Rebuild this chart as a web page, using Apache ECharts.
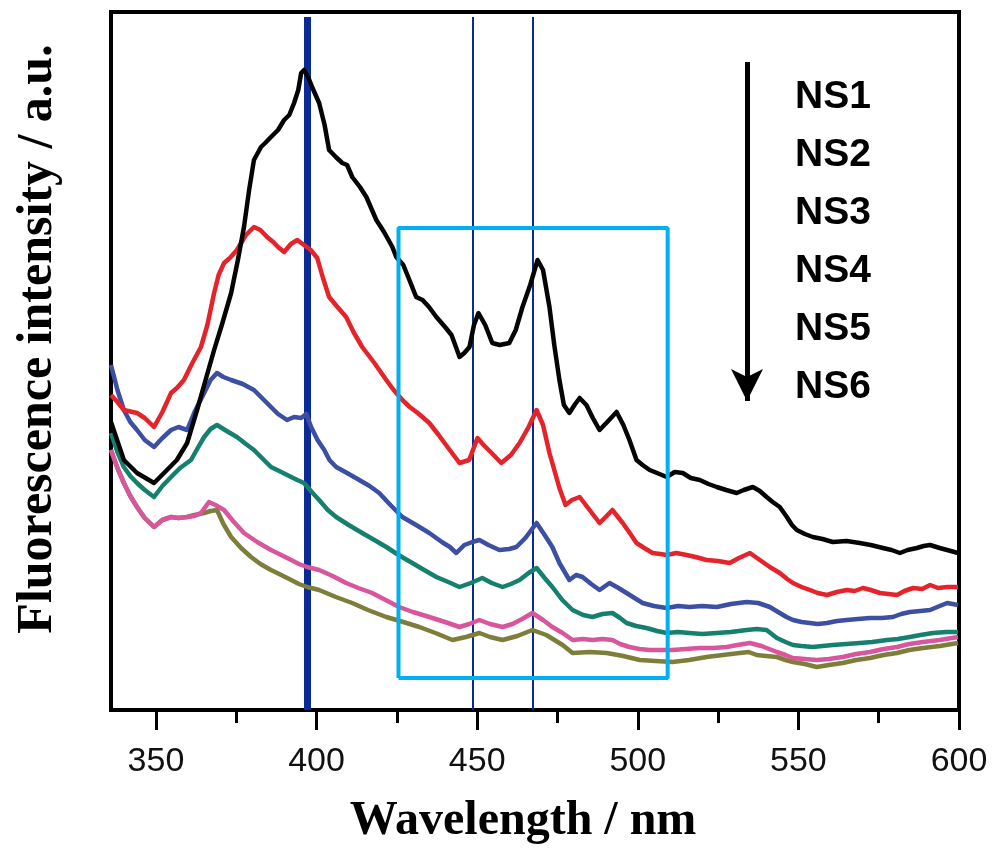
<!DOCTYPE html>
<html>
<head>
<meta charset="utf-8">
<script src="https://cdn.jsdelivr.net/npm/echarts@6/dist/echarts.min.js"></script>
<style>html,body{margin:0;padding:0;background:#fff}#c{width:996px;height:858px}</style>
</head>
<body>
<div id="c"></div>
<script>
// ---- data (wavelength nm, intensity a.u.) ----
const seriesNames = ['NS1','NS2','NS3','NS4','NS5','NS6'];
const ns1 = [[336,288],[340,250],[344.1,237],[349.4,227],[352.5,237],[356.5,250],[359.7,267],[362.8,300],[365,325],[368.1,360],[370.5,385],[373.4,417],[375.5,450],[377.4,483],[379,520],[380.5,550],[382.7,563],[384,567],[385.8,573],[388,580],[389.9,590],[391.5,595],[393,607],[394.3,620],[395.2,637],[396.1,640],[397.5,632],[398.6,623],[400.8,607],[402.5,585],[403.9,560],[406,553],[408,547],[409.5,545],[411.1,533],[413.5,523],[415.5,513],[418.6,490],[421,478],[423.6,463],[424.8,453],[427,445],[428.9,430],[431,413],[433,410],[435,403],[437.3,393],[440,383],[442,375],[443.5,362],[444.5,353],[446,357],[447.6,363],[449,385],[450.4,397],[452.5,385],[454.7,367],[457,365],[460,367],[462,380],[464.1,403],[466.5,425],[468.8,450],[470.5,440],[472.5,403],[474,365],[475.6,330],[477,305],[478.7,297],[480.3,305],[481.9,312],[484,305],[486,292],[488.1,280],[490.5,288],[493.4,298],[495.5,285],[497.4,270],[499.6,250],[501.5,245],[503.7,240],[506,237],[509,233],[511.5,238],[514,237],[516.5,232],[519.3,230],[522,226],[524.6,223],[527.5,220],[530.8,217],[533,220],[535.8,223],[538,219],[540.1,213],[542,208],[544.2,203],[546.4,193],[548,185],[549.5,180],[552,176],[554.5,173],[557.5,171],[560.7,168],[565,169],[569.1,167],[572.5,165],[576.3,162],[579,160],[581.6,157],[584,160],[586.9,162],[589,164],[591,165],[594,162],[596.3,160],[599.7,157]];
const ns2 = [[336,315],[338,308],[340,300],[344.1,297],[346.5,292],[349.4,283],[352,298],[354.7,317],[356.5,322],[358.7,330],[361,345],[364,363],[366,385],[368.1,417],[369.5,435],[371.2,447],[373,452],[375.2,460],[378,475],[380.5,483],[382.5,480],[384.6,473],[386.5,468],[388,463],[389.9,458],[392,466],[394,470],[396.1,465],[398.2,460],[400.2,452],[402,432],[403.9,413],[406.5,403],[409.2,393],[411.5,378],[414.2,363],[418,347],[421.7,330],[424,320],[426.7,310],[429,303],[431.5,297],[435.1,287],[438,275],[441,262],[444.5,247],[447.5,250],[450.1,272],[452,265],[454.5,257],[457.5,247],[460.5,255],[463.2,267],[466,283],[468.5,300],[470.5,285],[472.5,257],[475.6,222],[477.5,205],[479.5,210],[481.9,213],[485,200],[488.1,187],[490,193],[492.1,200],[495.3,187],[497.5,177],[499.6,167],[502,162],[504.6,157],[507,156],[509,155],[512,157],[515.2,155],[518,153],[521.4,150],[525,149],[528.6,147],[531.5,152],[534.9,157],[538,150],[541.1,143],[544.2,137],[546.5,131],[548.3,127],[551,123],[553.6,120],[556,117],[558.9,115],[562,118],[565.1,120],[567.5,119],[570.1,122],[572.5,120],[575.4,117],[578,116],[580.7,115],[583,119],[585.7,122],[588.5,121],[591,125],[593.5,122],[596.3,123],[599.7,123]];
const ns3 = [[336,345],[338,320],[340,300],[342,288],[344.1,280],[346.5,270],[349.4,263],[352,272],[354.7,280],[357,283],[359.7,280],[362,298],[365,317],[367,330],[369,337],[371,333],[373.4,330],[377,326],[380.5,320],[383,312],[385.8,303],[388,296],[390.8,290],[393,293],[395.2,292],[396.8,296],[398.3,283],[400.3,270],[402.4,260],[404,250],[406.1,243],[409.5,237],[413.3,230],[416.5,224],[419.5,217],[423,205],[426.7,193],[431,185],[435.1,177],[439,168],[441.5,163],[443.5,157],[446,165],[448.5,168],[450.7,170],[453.5,165],[456.9,160],[460,161],[462.2,163],[465,172],[468.5,187],[471,175],[473.4,163],[475.6,147],[478.7,130],[480.8,135],[482.8,133],[485.5,126],[488.1,120],[491.2,127],[494,122],[496.5,117],[499,112],[501.5,107],[505,104],[509,102],[512.5,104],[516.1,103],[520,104],[524.6,103],[529,106],[533.9,108],[537.5,107],[541.1,103],[544.2,97],[546.3,93],[548.3,90],[551,88],[553.6,87],[556,86],[558.9,87],[562,89],[565.1,90],[568.5,91],[572.3,92],[576,92],[579.4,93],[582,96],[584.7,98],[588,99],[591,100],[594,104],[596.3,107],[599.7,105]];
const ns4 = [[336,277],[338,258],[340,243],[342,234],[344.1,227],[346.5,220],[349.4,213],[352,224],[354.7,233],[357.5,242],[360.9,250],[363,262],[365,273],[367,281],[369,285],[372,279],[375.2,273],[378,266],[380.5,260],[383,252],[385.8,243],[389,238],[392.1,233],[394,230],[396.1,227],[398.5,218],[400.8,210],[403.5,200],[406.1,193],[410,185],[414.2,177],[418,170],[421.7,163],[425.5,155],[429.8,147],[433.5,140],[437.3,133],[441,128],[444.5,123],[448,127],[451.6,132],[454.5,127],[457.9,123],[460.5,126],[463.2,130],[466,137],[468.5,142],[471,132],[473.4,123],[476.5,110],[479.7,100],[483,95],[485.9,93],[489,96],[492.1,97],[494.5,92],[496.5,87],[499.5,84],[502.7,82],[506,79],[509,77],[512.5,78],[516.1,77],[520,76],[524.6,77],[529,78],[533.9,80],[537,81],[540.1,80],[543.3,72],[546,68],[548.3,65],[551,64],[554.5,63],[557.5,64],[560.7,65],[565,66],[569.1,67],[573,68],[577.6,70],[581,71],[584.7,73],[588,75],[591.9,77],[596,78],[599.7,78]];
const ns5 = [[336,260],[338,242],[340,227],[342,214],[344.1,203],[346.5,192],[349.4,183],[352,190],[354.7,193],[357,192],[359.7,193],[362,194],[364,197],[366.5,208],[368.5,205],[371.2,200],[374,189],[377.4,177],[381.5,168],[385.8,160],[389,155],[392.1,150],[394.5,146],[397.1,143],[400.8,140],[405,134],[409.2,127],[413,122],[417.3,117],[421.5,110],[425.7,103],[430,98],[435.1,93],[440,88],[444.5,83],[447.5,86],[450.7,90],[454,86],[457.9,83],[461,86],[464,91],[467.2,97],[470.5,90],[473.4,83],[476.6,77],[479.7,70],[483,71],[485.9,70],[489,71],[492.1,70],[494.5,66],[497.4,63],[500.5,61],[503.7,60],[507,60],[510.8,60],[515,61],[519.3,62],[523.5,62],[527.7,63],[531,65],[534.9,67],[538.5,64],[543.3,58],[546,55],[548.3,52],[552,51],[555.7,50],[559.5,51],[563.8,53],[568,56],[572.3,58],[576.5,61],[580.7,63],[584.5,66],[588.8,68],[594,70],[599.7,73]];
const ns6 = [[336,260],[338,242],[340,227],[342,214],[344.1,203],[346.5,192],[349.4,183],[352,190],[354.7,193],[357,192],[359.7,193],[362,195],[365,197],[367,199],[369,200],[371,186],[373.4,173],[376.5,162],[379.6,153],[382.5,146],[385.8,140],[389,135],[392.1,130],[394.5,126],[397.1,123],[400.8,120],[406,113],[411.1,107],[416,100],[421.7,93],[427,88],[432,83],[437,77],[442.3,70],[446.5,73],[450.7,77],[454,73],[457.9,70],[462.5,74],[467.2,80],[471.5,75],[476.6,65],[479.7,57],[485,58],[490.3,57],[495.5,54],[500.6,50],[505.5,49],[510.8,48],[516,50],[521.4,53],[526.5,55],[531.7,57],[534.5,58],[537,55],[540,54],[543.3,53],[546,50],[548.3,48],[552,46],[555.7,43],[559.5,45],[563.8,47],[568,50],[572.3,52],[576.5,55],[580.7,57],[584.5,60],[588.8,62],[594,64],[599.7,67]];
const seriesColors = ['#050505','#e4232b','#3c4fa2','#16806f','#d8569c','#7e7e3b'];
const xTickValues = [350, 400, 450, 500, 550, 600];
const xMinorTickValues = [375, 425, 475, 525, 575];
const xRange = [336, 600];
const yRange = [0, 698];
// annotations
const thickLineX = 397.2;
const thinLinesX = [448.5, 467.2];
const markerLineY = [0, 693];
const boxX = [425.5, 509.3];
const boxY = [32, 482];
const arrowX = 534;
const arrowY = [648, 309];

const allSeries = [ns1, ns2, ns3, ns4, ns5, ns6];
const chart = echarts.init(document.getElementById('c'), null, {renderer: 'canvas'});

const curveSeries = allSeries.map((d, i) => ({
  name: seriesNames[i],
  type: 'line',
  data: d,
  showSymbol: false,
  symbol: 'none',
  smooth: false,
  z: 10 - i,
  lineStyle: {color: seriesColors[i], width: 4.5, join: 'round'},
  itemStyle: {color: seriesColors[i]},
  animation: false
})).reverse();

const boxData = [[boxX[0], boxY[0]], [boxX[0], boxY[1]], [boxX[1], boxY[1]], [boxX[1], boxY[0]], [boxX[0], boxY[0]]];

const option = {
  animation: false,
  backgroundColor: '#fff',
  grid: {left: 111, right: 37, top: 12, bottom: 148, show: true, borderColor: '#000', borderWidth: 4, backgroundColor: 'transparent'},
  legend: {
    data: seriesNames,
    orient: 'vertical',
    left: 790, top: 77,
    padding: 0,
    itemGap: 18,
    itemWidth: 0, itemHeight: 0,
    icon: 'rect',
    selectedMode: false,
    textStyle: {color: '#000', fontSize: 39, fontWeight: 'bold', fontFamily: '"Liberation Sans", Arial, sans-serif', lineHeight: 40}
  },
  xAxis: [{
    type: 'value', min: xRange[0], max: xRange[1],
    name: 'Wavelength / nm', nameLocation: 'middle', nameGap: 88,
    nameTextStyle: {fontFamily: '"Liberation Serif", "Times New Roman", serif', fontWeight: 'bold', fontSize: 48, color: '#000', padding: [0, 24, 0, 0]},
    axisLine: {show: true, onZero: false, lineStyle: {color: '#000', width: 4}},
    axisTick: {show: true, inside: false, length: 20, customValues: xTickValues, lineStyle: {color: '#000', width: 3}},
    axisLabel: {show: true, customValues: xTickValues, margin: 35, color: '#111', fontSize: 34, fontFamily: '"Liberation Sans", Arial, sans-serif'},
    splitLine: {show: false}
  }, {
    type: 'value', min: xRange[0], max: xRange[1], position: 'bottom',
    axisLine: {show: false, onZero: false},
    axisTick: {show: true, inside: false, length: 13, customValues: xMinorTickValues, lineStyle: {color: '#000', width: 3}},
    axisLabel: {show: false},
    splitLine: {show: false}
  }],
  yAxis: {
    type: 'value', min: yRange[0], max: yRange[1],
    name: 'Fluorescence intensity / a.u.', nameLocation: 'middle', nameGap: 48,
    nameTextStyle: {fontFamily: '"Liberation Serif", "Times New Roman", serif', fontWeight: 'bold', fontSize: 50, color: '#000', padding: [0, 0, 0, 44]},
    axisLine: {show: true, lineStyle: {color: '#000', width: 4}},
    axisTick: {show: false}, axisLabel: {show: false}, splitLine: {show: false}
  },
  series: curveSeries.concat([
    {
      name: 'box', type: 'line', data: boxData, showSymbol: false, symbol: 'none', z: 20,
      lineStyle: {color: '#00b0f0', width: 4}, silent: true
    },
    {
      name: 'markers', type: 'line', data: [], z: 21, silent: true,
      markLine: {
        silent: true, symbol: ['none', 'none'], label: {show: false}, animation: false,
        data: [
          [{coord: [thickLineX, markerLineY[0]], lineStyle: {color: '#0a2b96', width: 7, type: 'solid'}}, {coord: [thickLineX, markerLineY[1]]}],
          [{coord: [thinLinesX[0], markerLineY[0]], lineStyle: {color: '#0a2b96', width: 2, type: 'solid'}}, {coord: [thinLinesX[0], markerLineY[1]]}],
          [{coord: [thinLinesX[1], markerLineY[0]], lineStyle: {color: '#0a2b96', width: 2, type: 'solid'}}, {coord: [thinLinesX[1], markerLineY[1]]}]
        ]
      }
    },
    {
      name: 'arrow', type: 'line', data: [], z: 22, silent: true,
      markLine: {
        silent: true, symbol: ['none', 'arrow'], symbolSize: [24, 32], label: {show: false}, animation: false,
        data: [[{coord: [arrowX, arrowY[0]], lineStyle: {color: '#000', width: 5, type: 'solid'}}, {coord: [arrowX, arrowY[1]]}]]
      }
    }
  ])
};
chart.setOption(option);
</script>
</body>
</html>
